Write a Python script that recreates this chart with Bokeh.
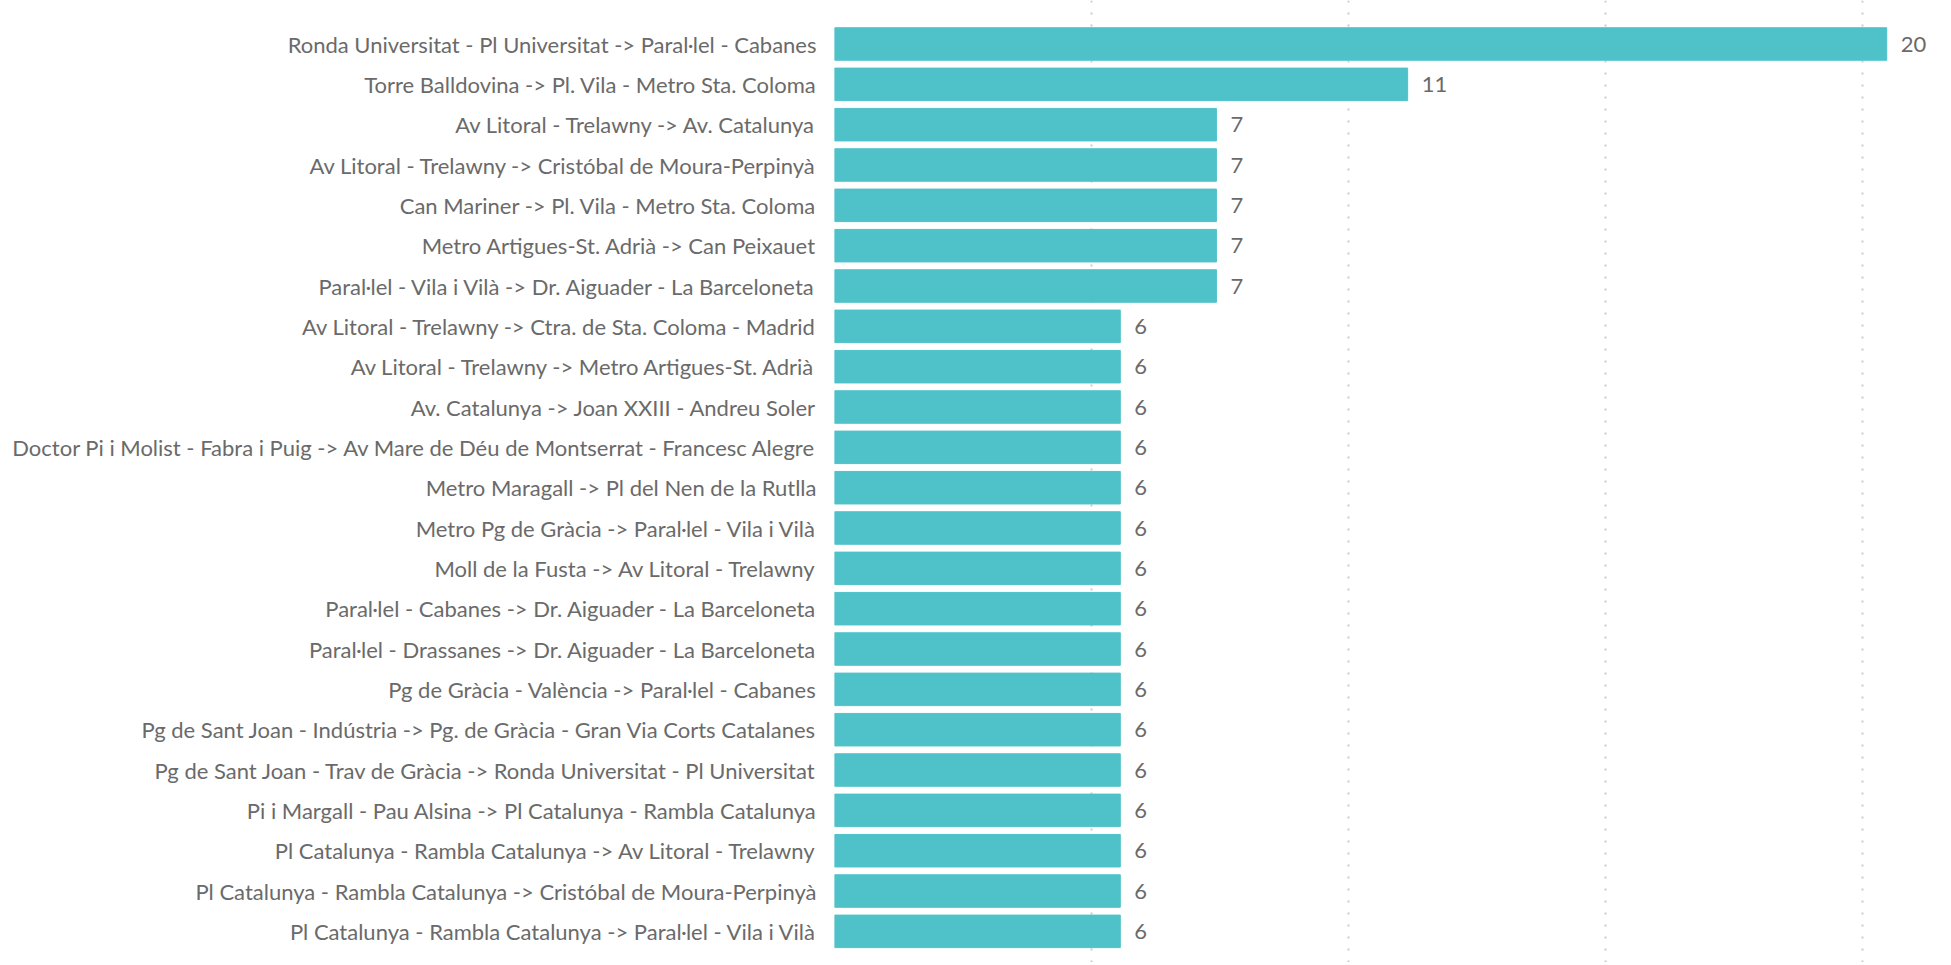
from bokeh.plotting import figure
from bokeh.models import Range1d, SingleIntervalTicker, FixedTicker, ColumnDataSource
from bokeh.core.properties import value
from bokeh.embed import file_html
from bokeh.resources import INLINE

routes = [
    "Ronda Universitat - Pl Universitat -> Paral·lel - Cabanes",
    "Torre Balldovina -> Pl. Vila - Metro Sta. Coloma",
    "Av Litoral - Trelawny -> Av. Catalunya",
    "Av Litoral - Trelawny -> Cristóbal de Moura-Perpinyà",
    "Can Mariner -> Pl. Vila - Metro Sta. Coloma",
    "Metro Artigues-St. Adrià -> Can Peixauet",
    "Paral·lel - Vila i Vilà -> Dr. Aiguader - La Barceloneta",
    "Av Litoral - Trelawny -> Ctra. de Sta. Coloma - Madrid",
    "Av Litoral - Trelawny -> Metro Artigues-St. Adrià",
    "Av. Catalunya -> Joan XXIII - Andreu Soler",
    "Doctor Pi i Molist - Fabra i Puig -> Av Mare de Déu de Montserrat - Francesc Alegre",
    "Metro Maragall -> Pl del Nen de la Rutlla",
    "Metro Pg de Gràcia -> Paral·lel - Vila i Vilà",
    "Moll de la Fusta -> Av Litoral - Trelawny",
    "Paral·lel - Cabanes -> Dr. Aiguader - La Barceloneta",
    "Paral·lel - Drassanes -> Dr. Aiguader - La Barceloneta",
    "Pg de Gràcia - València -> Paral·lel - Cabanes",
    "Pg de Sant Joan - Indústria -> Pg. de Gràcia - Gran Via Corts Catalanes",
    "Pg de Sant Joan - Trav de Gràcia -> Ronda Universitat - Pl Universitat",
    "Pi i Margall - Pau Alsina -> Pl Catalunya - Rambla Catalunya",
    "Pl Catalunya - Rambla Catalunya -> Av Litoral - Trelawny",
    "Pl Catalunya - Rambla Catalunya -> Cristóbal de Moura-Perpinyà",
    "Pl Catalunya - Rambla Catalunya -> Paral·lel - Vila i Vilà",
]
counts = [20.47, 11.15, 7.43, 7.43, 7.43, 7.43, 7.43,
          5.56, 5.56, 5.56, 5.56, 5.56, 5.56, 5.56, 5.56, 5.56,
          5.56, 5.56, 5.56, 5.56, 5.56, 5.56, 5.56]

n = len(routes)
pos = list(range(n))
labels = [f"{round(v)}" for v in counts]

src = ColumnDataSource(dict(y=pos, v=counts, lab=labels, name=routes))

FONT = "Lato"
GRAY = "#6a6a6a"

p = figure(width=1951, height=962, output_backend="svg", toolbar_location=None,
           x_range=Range1d(0, 21.73), y_range=Range1d(22.772, -1.0786),
           min_border_left=834, min_border_right=0, min_border_top=0, min_border_bottom=0)
p.outline_line_color = None
p.background_fill_color = "white"
p.border_fill_color = "white"

p.hbar(y="y", left=0, right="v", height=0.806, color="#4FC2C9", source=src)
p.text(x="v", y="y", text="lab", source=src, x_offset=14, text_baseline="middle",
       text_align="left", text_font=value(FONT), text_font_size="22px", text_color=GRAY)

p.xaxis.visible = False
p.xgrid.ticker = SingleIntervalTicker(interval=5)
p.xgrid.grid_line_color = "#cccccc"
p.xgrid.grid_line_dash = "2 10"
p.xgrid.grid_line_width = 2
p.ygrid.visible = False

ya = p.yaxis[0]
ya.ticker = FixedTicker(ticks=pos)
ya.major_label_overrides = {i: r for i, r in zip(pos, routes)}
ya.axis_line_color = None
ya.major_tick_line_color = None
ya.minor_tick_line_color = None
ya.major_tick_out = 0
ya.major_tick_in = 0
ya.major_label_standoff = 18
ya.major_label_text_font = FONT
ya.major_label_text_font_size = "22px"
ya.major_label_text_color = GRAY

open("out.html", "w").write(file_html(p, INLINE))
